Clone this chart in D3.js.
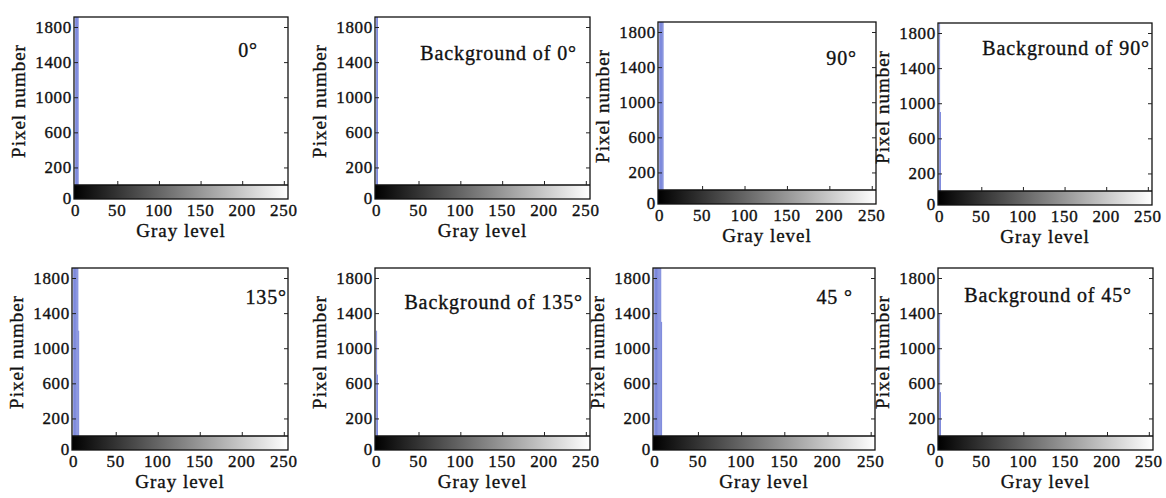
<!DOCTYPE html>
<html>
<head>
<meta charset="utf-8">
<script src="https://cdn.jsdelivr.net/npm/d3@7"></script>
<style>
  body { margin: 0; background: #fff; }
  svg text { font-family: "Liberation Serif", "DejaVu Serif", serif; fill: #111; stroke: #111; stroke-width: 0.35px; }
  .tick-label { font-size: 17px; letter-spacing: 0.7px; }
  .axis-title { font-size: 19px; letter-spacing: 1px; }
  .note { font-size: 20px; letter-spacing: 0.9px; }
</style>
</head>
<body>
<div id="chart"></div>
<script>
// panel titles, in reading order
const panelNames = ['0°', 'Background of 0°', '90°', 'Background of 90°',
                    '135°', 'Background of 135°', '45 °', 'Background of 45°'];

// non-empty histogram bins (gray level -> pixel count)
const levels0 = [0, 1, 2, 3];
const counts0 = [5200, 4300, 3400, 2600];
const levelsBg0 = [0, 1];
const countsBg0 = [6100, 2300];
const levels90 = [0, 1, 2, 3, 4];
const counts90 = [5600, 4700, 3800, 2900, 2100];
const levelsBg90 = [0, 1];
const countsBg90 = [5400, 900];
const levels135 = [0, 1, 2, 3, 4, 5, 6];
const counts135 = [6200, 5400, 4600, 3900, 3100, 2400, 1200];
const levelsBg135 = [0, 1];
const countsBg135 = [1200, 700];
const levels45 = [0, 1, 2, 3, 4, 5, 6, 7, 8];
const counts45 = [6800, 6100, 5300, 4500, 3800, 3100, 2500, 2000, 1300];
const levelsBg45 = [0, 1];
const countsBg45 = [1400, 500];

const yTicks = [200, 600, 1000, 1400, 1800];
const xTicks = [0, 50, 100, 150, 200, 250];

const allLevels = [levels0, levelsBg0, levels90, levelsBg90, levels135, levelsBg135, levels45, levelsBg45];
const allCounts = [counts0, countsBg0, counts90, countsBg90, counts135, countsBg135, counts45, countsBg45];

// where each panel sits on the page, and where its note ends
const layout = [
  {x: 74,  y: 17,  w: 214, nx: -30, ny: 33},
  {x: 375, y: 17,  w: 215, nx: -13, ny: 36},
  {x: 658, y: 22,  w: 218, nx: -19, ny: 36},
  {x: 938, y: 23,  w: 214, nx: -2,  ny: 25},
  {x: 72,  y: 268, w: 216, nx: -1,  ny: 29},
  {x: 375, y: 268, w: 215, nx: -7,  ny: 34},
  {x: 653, y: 268, w: 222, nx: -22, ny: 29},
  {x: 938, y: 268, w: 215, nx: -21, ny: 27}
];

const svg = d3.select('#chart').append('svg')
    .attr('width', 1166)
    .attr('height', 498);

const defs = svg.append('defs');
const grad = defs.append('linearGradient').attr('id', 'grayramp');
grad.append('stop').attr('offset', '0%').attr('stop-color', '#000');
grad.append('stop').attr('offset', '100%').attr('stop-color', '#fff');

class Histogram {

  constructor(_config, _data) {
    this.config = {
      x: _config.x,
      y: _config.y,
      width: _config.w,
      histHeight: 168,
      barHeight: 14,
      noteX: _config.nx,
      noteY: _config.ny,
      name: _config.name
    };
    this.data = _data;
    this.initVis();
  }

  initVis() {
    let vis = this;
    const c = vis.config;

    vis.xScale = d3.scaleLinear()
        .domain([-2, 255])
        .range([0, c.width]);

    vis.yScale = d3.scaleLinear()
        .domain([0, 1914])
        .range([c.histHeight, 0]);

    vis.g = svg.append('g')
        .attr('transform', `translate(${c.x},${c.y})`);

    vis.clipId = 'clip' + Math.round(c.x) + '_' + Math.round(c.y);
    defs.append('clipPath').attr('id', vis.clipId)
      .append('rect')
        .attr('width', c.width)
        .attr('height', c.histHeight);

    vis.bars = vis.g.append('g').attr('clip-path', `url(#${vis.clipId})`);

    // gray ramp under the histogram
    vis.g.append('rect')
        .attr('x', 0)
        .attr('y', c.histHeight)
        .attr('width', c.width)
        .attr('height', c.barHeight)
        .attr('fill', 'url(#grayramp)');

    vis.g.append('rect')
        .attr('width', c.width)
        .attr('height', c.histHeight + c.barHeight)
        .attr('fill', 'none')
        .attr('stroke', '#111')
        .attr('stroke-width', 1.3);

    vis.g.append('line')
        .attr('x1', 0).attr('x2', c.width)
        .attr('y1', c.histHeight).attr('y2', c.histHeight)
        .attr('stroke', '#111')
        .attr('stroke-width', 1.3);

    vis.yAxisL = d3.axisLeft(vis.yScale).tickValues(yTicks).tickSize(-4).tickFormat('');
    vis.yAxisR = d3.axisRight(vis.yScale).tickValues(yTicks).tickSize(-4).tickFormat('');
    vis.xAxis = d3.axisTop(vis.xScale).tickValues(xTicks.slice(1)).tickSize(4).tickFormat('');

    vis.g.append('g').attr('class', 'yl').call(vis.yAxisL);
    vis.g.append('g').attr('class', 'yr').attr('transform', `translate(${c.width},0)`).call(vis.yAxisR);
    vis.g.append('g').attr('class', 'xt').attr('transform', `translate(0,${c.histHeight})`).call(vis.xAxis);
    vis.g.selectAll('.domain').remove();
    vis.g.selectAll('.tick line').attr('stroke', '#222').attr('stroke-width', 1);

    // tick labels
    vis.g.selectAll('.ylab')
        .data(yTicks)
        .join('text')
        .attr('class', 'tick-label')
        .attr('x', -2)
        .attr('y', d => vis.yScale(d))
        .attr('dy', '0.35em')
        .attr('text-anchor', 'end')
        .text(d => d);

    vis.g.append('text')
        .attr('class', 'tick-label')
        .attr('x', -2)
        .attr('y', c.histHeight + c.barHeight)
        .attr('dy', '0.3em')
        .attr('text-anchor', 'end')
        .text('0');

    vis.g.selectAll('.xlab')
        .data(xTicks)
        .join('text')
        .attr('class', 'tick-label')
        .attr('x', d => vis.xScale(d))
        .attr('y', c.histHeight + c.barHeight + 11)
        .attr('dy', '0.35em')
        .attr('text-anchor', 'middle')
        .text(d => d);

    vis.g.append('text')
        .attr('class', 'axis-title')
        .attr('x', c.width / 2)
        .attr('y', c.histHeight + c.barHeight + 31)
        .attr('dy', '0.35em')
        .attr('text-anchor', 'middle')
        .text('Gray level');

    vis.g.append('text')
        .attr('class', 'axis-title')
        .attr('transform', `translate(-56,${c.histHeight / 2}) rotate(-90)`)
        .attr('dy', '0.35em')
        .attr('text-anchor', 'middle')
        .text('Pixel number');

    vis.g.append('text')
        .attr('class', 'note')
        .attr('x', c.width + c.noteX)
        .attr('y', c.noteY)
        .attr('dy', '0.35em')
        .attr('text-anchor', 'end')
        .text(c.name);
  }

  renderVis() {
    let vis = this;

    vis.bars.selectAll('.bar')
        .data(vis.data)
        .join('rect')
        .attr('class', 'bar')
        .attr('fill', '#6a78d6')
        .attr('x', d => vis.xScale(d.level - 0.5))
        .attr('width', vis.xScale(1) - vis.xScale(0))
        .attr('y', d => vis.yScale(d.count))
        .attr('height', d => vis.yScale(0) - vis.yScale(d.count));
  }
}

panelNames.forEach((name, i) => {
  const data = allLevels[i].map((lv, j) => ({level: lv, count: allCounts[i][j]}));
  const h = new Histogram(Object.assign({name: name}, layout[i]), data);
  h.renderVis();
});
</script>
</body>
</html>
